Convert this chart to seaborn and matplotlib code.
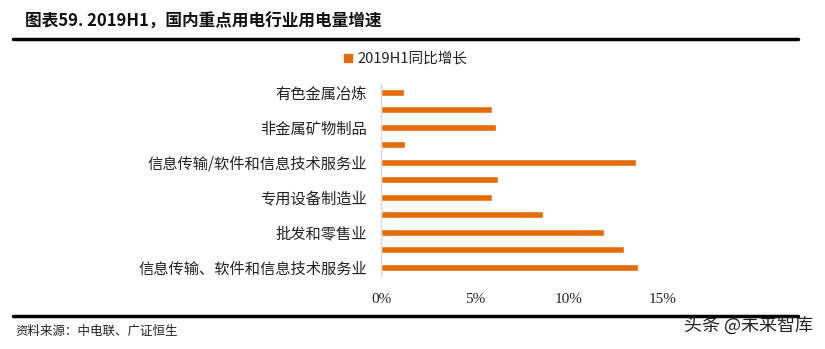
import matplotlib
matplotlib.use("Agg")
import matplotlib.pyplot as plt
import seaborn as sns
import pandas as pd
from matplotlib.ticker import FuncFormatter

categories = ["有色金属冶炼", "黑色金属冶炼", "非金属矿物制品", "化学原料制品",
              "信息传输/软件和信息技术服务业", "通用设备制造业", "专用设备制造业",
              "电气机械制造业", "批发和零售业", "住宿和餐饮业",
              "信息传输、软件和信息技术服务业"]
tick_labels = ["有色金属冶炼", "", "非金属矿物制品", "",
               "信息传输/软件和信息技术服务业", "", "专用设备制造业",
               "", "批发和零售业", "", "信息传输、软件和信息技术服务业"]
growth = [0.012, 0.059, 0.061, 0.013, 0.1355, 0.062, 0.059, 0.086, 0.1185, 0.1295, 0.1365]
series_name = "2019H1同比增长"
x_ticks = [0, 0.05, 0.10, 0.15]

sns.set_theme(style="white")
plt.rcParams['font.family'] = ['Noto Sans CJK SC', 'DejaVu Sans']

df = pd.DataFrame({"cat": categories, "val": growth, "series": series_name})

fig = plt.figure(figsize=(8.25, 3.49), dpi=100)
ax = fig.add_axes([381/825, 1-276/349, (663-381)/825, (276-83.5)/349])

sns.barplot(data=df, y="cat", x="val", hue="series", orient="h",
            palette=["#E46C0A"], saturation=1, width=0.38, ax=ax, legend=False,
            order=categories)

ax.set_xlim(0, 0.15)
ax.set_ylim(len(categories) - 0.5, -0.5)
ax.set_xticks(x_ticks)
ax.xaxis.set_major_formatter(FuncFormatter(lambda v, p: f"{v*100:.0f}%"))
ax.set_yticks(range(len(categories)))
ax.set_yticklabels(tick_labels, fontsize=11, color="#222222")
for lbl in ax.get_xticklabels():
    lbl.set_fontfamily(["Liberation Serif", "DejaVu Sans"])
    lbl.set_fontsize(11)
    lbl.set_color("#222222")
ax.tick_params(axis="y", length=0, pad=10)
ax.tick_params(axis="x", length=0, pad=12)
ax.set_xlabel("")
ax.set_ylabel("")
for s in ["top", "right", "bottom"]:
    ax.spines[s].set_visible(False)
ax.spines["left"].set_color("#D9D9D9")
ax.spines["left"].set_linewidth(1)

# Title
fig.text(25/825, 1-22/349, "图表59. 2019H1，国内重点用电行业用电量增速",
         fontsize=12, fontweight="bold", va="center", ha="left", color="#111111")
fig.add_artist(plt.Line2D([13/825, 798/825], [1-39/349, 1-39/349], color="black", lw=2.5))

# Legend
fig.patches.append(plt.Rectangle((344/825, 1-62/349), 8/825, 8/349, color="#E46C0A",
                                 transform=fig.transFigure, figure=fig))
fig.text(357/825, 1-58/349, series_name, fontsize=10.5, va="center", ha="left", color="#222222")

# Footer
fig.add_artist(plt.Line2D([13/825, 798/825], [1-316/349, 1-316/349], color="black", lw=2.5))
fig.text(15/825, 1-331/349, "资料来源：中电联、广证恒生", fontsize=9, va="center", ha="left", color="#222222")
fig.text(813/825, 1-325/349, "头条 @未来智库", fontsize=13, va="center", ha="right", color="#222222")

fig.savefig("out.png", dpi=100)
